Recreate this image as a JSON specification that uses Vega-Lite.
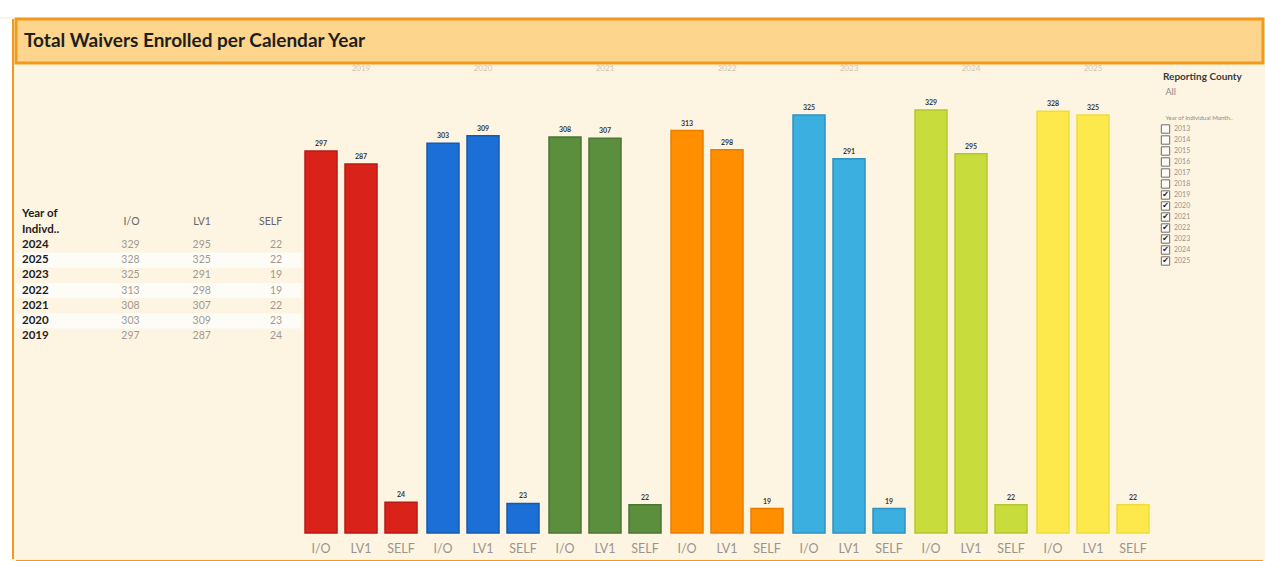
{
  "$schema": "https://vega.github.io/schema/vega-lite/v6.json",
  "background": "#fdf4e2",
  "padding": 0,
  "config": {
    "view": {"stroke": null},
    "font": "Lato",
    "concat": {"spacing": 0}
  },
  "datasets": {
    "blank": [{}],
    "waivers": [
      {"year": "2019", "type": "I/O", "count": 297},
      {"year": "2019", "type": "LV1", "count": 287},
      {"year": "2019", "type": "SELF", "count": 24},
      {"year": "2020", "type": "I/O", "count": 303},
      {"year": "2020", "type": "LV1", "count": 309},
      {"year": "2020", "type": "SELF", "count": 23},
      {"year": "2021", "type": "I/O", "count": 308},
      {"year": "2021", "type": "LV1", "count": 307},
      {"year": "2021", "type": "SELF", "count": 22},
      {"year": "2022", "type": "I/O", "count": 313},
      {"year": "2022", "type": "LV1", "count": 298},
      {"year": "2022", "type": "SELF", "count": 19},
      {"year": "2023", "type": "I/O", "count": 325},
      {"year": "2023", "type": "LV1", "count": 291},
      {"year": "2023", "type": "SELF", "count": 19},
      {"year": "2024", "type": "I/O", "count": 329},
      {"year": "2024", "type": "LV1", "count": 295},
      {"year": "2024", "type": "SELF", "count": 22},
      {"year": "2025", "type": "I/O", "count": 328},
      {"year": "2025", "type": "LV1", "count": 325},
      {"year": "2025", "type": "SELF", "count": 22}
    ],
    "yearFilter": [
      {"year": "2013", "checked": false},
      {"year": "2014", "checked": false},
      {"year": "2015", "checked": false},
      {"year": "2016", "checked": false},
      {"year": "2017", "checked": false},
      {"year": "2018", "checked": false},
      {"year": "2019", "checked": true},
      {"year": "2020", "checked": true},
      {"year": "2021", "checked": true},
      {"year": "2022", "checked": true},
      {"year": "2023", "checked": true},
      {"year": "2024", "checked": true},
      {"year": "2025", "checked": true}
    ]
  },
  "vconcat": [
    {
      "width": 1265,
      "height": 17,
      "view": {"fill": "white"},
      "data": {"name": "blank"},
      "mark": "text",
      "encoding": {"text": {"value": ""}}
    },
    {
      "hconcat": [
        {
          "width": 12,
          "height": 544,
          "view": {"fill": "white"},
          "data": {"name": "blank"},
          "mark": "text",
          "encoding": {"text": {"value": ""}}
        },
        {
          "width": 2,
          "height": 540,
          "view": {"fill": "#f39a1e"},
          "data": {"name": "blank"},
          "mark": "text",
          "encoding": {"text": {"value": ""}}
        },
        {
          "vconcat": [
            {
              "width": 1247,
              "height": 44,
              "view": {"fill": "#fdd58c", "stroke": "#f39a1e", "strokeWidth": 3},
              "data": {"values": [{"title": "Total Waivers Enrolled per Calendar Year"}]},
              "mark": {"type": "text", "align": "left", "baseline": "middle", "font": "Lato", "fontWeight": "bold", "fontSize": 19, "color": "#1e1e1e", "dx": 8},
              "encoding": {
                "text": {"field": "title"},
                "x": {"datum": 0, "type": "quantitative", "scale": {"domain": [0, 1]}, "axis": null},
                "y": {"datum": 0.5, "type": "quantitative", "scale": {"domain": [0, 1]}, "axis": null}
              }
            },
            {
              "hconcat": [
                {
                  "width": 285,
                  "height": 474,
                  "data": {"name": "waivers"},
                  "encoding": {
                    "x": {"type": "nominal", "scale": {"type": "band", "domain": ["Year", "I/O", "LV1", "SELF"], "paddingInner": 0, "paddingOuter": 0}, "axis": null},
                    "y": {"type": "nominal", "scale": {"type": "band", "domain": ["hdr", "2024", "2025", "2023", "2022", "2021", "2020", "2019"], "range": [141.25, 262.6], "paddingInner": 0, "paddingOuter": 0}, "axis": null}
                  },
                  "layer": [
                    {
                      "transform": [{"filter": "datum.type === 'I/O' && indexof(['2025','2022','2020'], datum.year) >= 0"}],
                      "mark": {"type": "rect", "fill": "#fefcf7"},
                      "encoding": {"y": {"field": "year"}}
                    },
                    {
                      "data": {"values": [{"h": ["Year of", "Indivd.."]}]},
                      "mark": {"type": "text", "align": "left", "baseline": "middle", "fontWeight": "bold", "fontSize": 11.5, "lineHeight": 16, "color": "#1e1e1e", "dy": -8},
                      "encoding": {
                        "text": {"field": "h"},
                        "x": {"datum": "Year", "bandPosition": 0.084},
                        "y": {"datum": "hdr", "bandPosition": 0}
                      }
                    },
                    {
                      "data": {"values": [{"c": "I/O"}, {"c": "LV1"}, {"c": "SELF"}]},
                      "mark": {"type": "text", "align": "right", "baseline": "middle", "fontSize": 10.5, "color": "#666666"},
                      "encoding": {
                        "text": {"field": "c"},
                        "x": {"field": "c", "bandPosition": 0.735},
                        "y": {"datum": "hdr", "bandPosition": 0}
                      }
                    },
                    {
                      "transform": [{"filter": "datum.type === 'I/O'"}],
                      "mark": {"type": "text", "align": "left", "baseline": "middle", "fontWeight": "bold", "fontSize": 11.5, "color": "#1e1e1e"},
                      "encoding": {
                        "text": {"field": "year"},
                        "x": {"datum": "Year", "bandPosition": 0.084},
                        "y": {"field": "year"}
                      }
                    },
                    {
                      "mark": {"type": "text", "align": "right", "baseline": "middle", "fontSize": 10.5, "color": "#a09a92"},
                      "encoding": {
                        "text": {"field": "count"},
                        "x": {"field": "type", "bandPosition": 0.735},
                        "y": {"field": "year"}
                      }
                    }
                  ]
                },
                {
                  "data": {"name": "waivers"},
                  "facet": {
                    "column": {
                      "field": "year",
                      "type": "nominal",
                      "header": {"title": null, "labelOrient": "top", "labelFontSize": 8, "labelColor": "#cfc6b4", "labelPadding": 8}
                    }
                  },
                  "spacing": 2,
                  "spec": {
                    "width": 120,
                    "height": 452,
                    "encoding": {
                      "x": {
                        "field": "type",
                        "type": "nominal",
                        "scale": {"domain": ["I/O", "LV1", "SELF"], "paddingInner": 0.2, "paddingOuter": 0.1},
                        "axis": {"title": null, "labelAngle": 0, "ticks": false, "domain": false, "labelColor": "#9a948c", "labelFontSize": 12.5, "labelPadding": 8}
                      },
                      "y": {"field": "count", "type": "quantitative", "scale": {"domain": [0, 351.5]}, "axis": null}
                    },
                    "layer": [
                      {
                        "mark": {"type": "bar", "strokeWidth": 1.5},
                        "encoding": {
                          "color": {
                            "field": "year",
                            "type": "nominal",
                            "scale": {"domain": ["2019", "2020", "2021", "2022", "2023", "2024", "2025"], "range": ["#d9231a", "#1b6fd6", "#5b8f3e", "#ff8f00", "#3aafe0", "#c8dc3c", "#fde94c"]},
                            "legend": null
                          },
                          "stroke": {
                            "field": "year",
                            "type": "nominal",
                            "scale": {"domain": ["2019", "2020", "2021", "2022", "2023", "2024", "2025"], "range": ["#b81a14", "#1759b0", "#4a7632", "#e67f00", "#2d93c2", "#b3c62f", "#f2dc3c"]},
                            "legend": null
                          }
                        }
                      },
                      {
                        "mark": {"type": "text", "baseline": "bottom", "dy": -4, "fontSize": 7, "fontWeight": "bold", "color": "#3a3a3a"},
                        "encoding": {"text": {"field": "count"}}
                      }
                    ]
                  }
                },
                {
                  "width": 110,
                  "height": 300,
                  "title": {"text": "Reporting County", "anchor": "start", "fontSize": 10, "fontWeight": "bold", "color": "#3a3a3a", "offset": 2, "dx": 10, "dy": 3},
                  "resolve": {"scale": {"y": "independent"}},
                  "layer": [
                    {
                      "data": {"values": [{"t": "All"}, {"t": "Year of Individual Month.."}]},
                      "mark": {"type": "text", "align": "left", "baseline": "middle", "color": "#8a8a8a"},
                      "encoding": {
                        "text": {"field": "t"},
                        "x": {"datum": "box", "type": "nominal", "scale": {"type": "point", "domain": ["box", "label"], "range": [12.5, 21], "padding": 0}, "axis": null},
                        "y": {"field": "t", "type": "nominal", "scale": {"type": "point", "domain": ["All", "Year of Individual Month.."], "range": [11, 37], "padding": 0}, "axis": null},
                        "size": {"field": "t", "type": "nominal", "scale": {"domain": ["All", "Year of Individual Month.."], "range": [9, 6]}, "legend": null},
                        "dx": {"field": "t", "type": "nominal", "scale": {"domain": ["All", "Year of Individual Month.."], "range": [-1, -4]}, "legend": null}
                      }
                    },
                    {
                      "data": {"name": "yearFilter"},
                      "encoding": {
                        "x": {"type": "nominal", "scale": {"type": "point", "domain": ["box", "label"], "range": [12.5, 21], "padding": 0}, "axis": null},
                        "y": {"field": "year", "type": "ordinal", "scale": {"type": "point", "range": [48, 180], "padding": 0}, "axis": null}
                      },
                      "layer": [
                        {
                          "mark": {"type": "point", "shape": "square", "size": 70, "filled": true, "fill": "white", "stroke": "#333333", "strokeWidth": 1},
                          "encoding": {"x": {"datum": "box"}}
                        },
                        {
                          "transform": [{"filter": "datum.checked"}],
                          "mark": {"type": "text", "text": "✔", "font": "DejaVu Sans", "fontSize": 8, "color": "#222222", "baseline": "middle"},
                          "encoding": {"x": {"datum": "box"}}
                        },
                        {
                          "mark": {"type": "text", "align": "left", "baseline": "middle", "fontSize": 7, "color": "#9a948c"},
                          "encoding": {"x": {"datum": "label"}, "text": {"field": "year"}}
                        }
                      ]
                    }
                  ]
                }
              ]
            },
            {
              "width": 1247,
              "height": 2,
              "view": {"fill": "#f39a1e"},
              "data": {"name": "blank"},
              "mark": "text",
              "encoding": {"text": {"value": ""}}
            }
          ]
        },
        {
          "width": 2,
          "height": 540,
          "view": {"fill": "#f39a1e"},
          "data": {"name": "blank"},
          "mark": "text",
          "encoding": {"text": {"value": ""}}
        },
        {
          "width": 2,
          "height": 544,
          "view": {"fill": "white"},
          "data": {"name": "blank"},
          "mark": "text",
          "encoding": {"text": {"value": ""}}
        }
      ]
    }
  ]
}
